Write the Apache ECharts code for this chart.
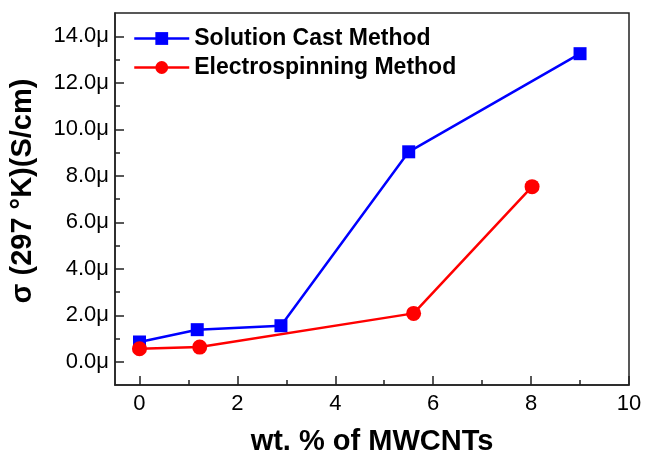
<!DOCTYPE html>
<html>
<head>
<meta charset="utf-8">
<script src="https://cdn.jsdelivr.net/npm/echarts@6/dist/echarts.min.js"></script>
<style>
  html, body { margin: 0; padding: 0; background: #fff; }
  #chart { width: 645px; height: 461px; }
</style>
</head>
<body>
<div id="chart"></div>
<script>
// values in micro S/cm
var castX = [0, 1.18, 2.89, 5.5, 9.0]
var castY = [0.85, 1.38, 1.55, 9.03, 13.25]
var spinX = [0, 1.23, 5.6, 8.02]
var spinY = [0.56, 0.63, 2.08, 7.53]
var seriesNames = ['Solution Cast Method', 'Electrospinning Method']
var xTicks = [0, 2, 4, 6, 8, 10]
var xMinor = [1, 3, 5, 7, 9]
var yTicks = [0, 2, 4, 6, 8, 10, 12, 14]
var yMinor = [1, 3, 5, 7, 9, 11, 13]

function pairs(xs, ys) {
  return xs.map(function (x, i) { return [x, ys[i]] })
}

var chart = echarts.init(document.getElementById('chart'))
var font = 'Liberation Sans, Arial, sans-serif'
var axisColor = '#222'
var xRange = { min: -0.5, max: 10 }
var yRange = { min: -1, max: 15 }

// second axis only used to draw the short minor ticks
function minorAxis(range, values, pos) {
  return {
    type: 'value',
    min: range.min,
    max: range.max,
    position: pos,
    axisLine: { show: false, onZero: false },
    axisTick: { show: true, inside: true, length: 5, customValues: values, lineStyle: { color: axisColor, width: 1.5 } },
    axisLabel: { show: false },
    splitLine: { show: false }
  }
}

chart.setOption({
  animation: false,
  textStyle: { fontFamily: font },
  grid: {
    left: 115,
    top: 13,
    right: 16,
    bottom: 69,
    show: true,
    borderColor: axisColor,
    borderWidth: 1.5
  },
  legend: {
    orient: 'vertical',
    left: 128,
    top: 22,
    itemWidth: 55,
    itemHeight: 16,
    itemGap: 6,
    data: seriesNames,
    lineStyle: { width: 2.5 },
    textStyle: { fontSize: 23, fontWeight: 'bold', color: '#000', fontFamily: font }
  },
  xAxis: [{
    type: 'value',
    min: xRange.min,
    max: xRange.max,
    position: 'bottom',
    name: 'wt. % of MWCNTs',
    nameLocation: 'middle',
    nameGap: 42,
    nameTextStyle: { fontSize: 29, fontWeight: 'bold', color: '#000' },
    axisLine: { onZero: false, lineStyle: { color: axisColor, width: 1.5 } },
    axisTick: { inside: true, length: 9, customValues: xTicks, lineStyle: { color: axisColor, width: 1.5 } },
    splitLine: { show: false },
    axisLabel: { fontSize: 22, color: '#000', margin: 8, customValues: xTicks }
  }, minorAxis(xRange, xMinor, 'bottom')],
  yAxis: [{
    type: 'value',
    min: yRange.min,
    max: yRange.max,
    position: 'left',
    name: 'σ (297 °K)(S/cm)',
    nameLocation: 'middle',
    nameGap: 78,
    nameTextStyle: { fontSize: 29, fontWeight: 'bold', color: '#000', padding: [0, 0, 0, 16] },
    axisLine: { onZero: false, lineStyle: { color: axisColor, width: 1.5 } },
    axisTick: { inside: true, length: 9, customValues: yTicks, lineStyle: { color: axisColor, width: 1.5 } },
    splitLine: { show: false },
    axisLabel: {
      fontSize: 22,
      color: '#000',
      margin: 6,
      customValues: yTicks,
      formatter: function (v) { return v.toFixed(1) + 'μ' }
    }
  }, minorAxis(yRange, yMinor, 'left')],
  series: [
    {
      name: seriesNames[0],
      type: 'line',
      data: pairs(castX, castY),
      symbol: 'rect',
      symbolSize: 13,
      lineStyle: { color: '#0000ff', width: 2.5 },
      itemStyle: { color: '#0000ff' }
    },
    {
      name: seriesNames[1],
      type: 'line',
      data: pairs(spinX, spinY),
      symbol: 'circle',
      symbolSize: 15,
      lineStyle: { color: '#ff0000', width: 2.5 },
      itemStyle: { color: '#ff0000' }
    }
  ]
})
</script>
</body>
</html>
